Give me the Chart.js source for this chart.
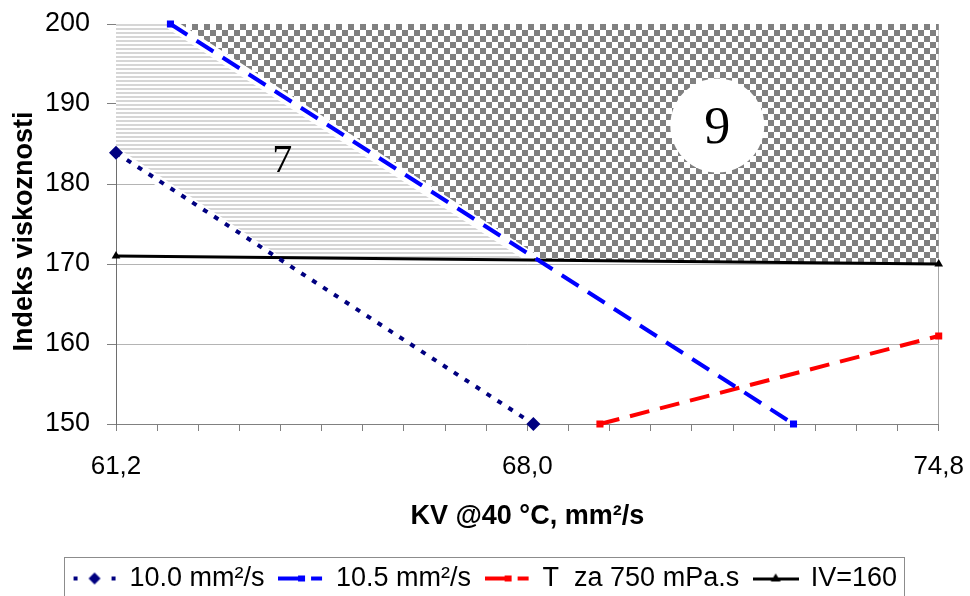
<!DOCTYPE html>
<html lang="hr">
<head>
  <meta charset="utf-8">
  <title>Indeks viskoznosti</title>
  <script src="https://cdn.jsdelivr.net/npm/chart.js@4.4.1/dist/chart.umd.min.js"></script>
  <style>
    html, body { margin: 0; padding: 0; background: #fff; overflow: hidden; }
    canvas { display: block; }
  </style>
</head>
<body>
<canvas id="chart" width="970" height="602"></canvas>

<script>
// --- data ---
const seriesNames = ['10.0 mm²/s', '10.5 mm²/s', 'T  za 750 mPa.s', 'IV=160'];

const kv100 = [61.2, 68.1];   // 10.0 mm2/s
const iv100 = [183.9, 150];
const kv105 = [62.1, 72.4];   // 10.5 mm2/s
const iv105 = [200, 150];
const kvT   = [69.2, 74.8];   // T za 750 mPa.s
const ivT   = [150, 161];
const kvIV  = [61.2, 74.8];   // IV=160
const ivIV  = [171, 170];

// shaded zones (corners)
const zone7X = [61.2, 62.1, 68.1, 63.8, 61.2];
const zone7Y = [200, 200, 170.6, 170.8, 183.9];
const zone9X = [62.1, 74.8, 74.8, 68.1];
const zone9Y = [200, 200, 170, 170.6];

// zone labels
const zoneLabels = ['7', '9'];
const zoneLabelX = [63.95, 71.14];
const zoneLabelY = [183.1, 187.2];
const zoneLabelSize = [40, 52];
const circleX = [71.14];
const circleY = [187.3];

// axes
const xMin = 61.2, xMax = 74.8, xStep = 0.68;
const xTickLabels = ['61,2', '68,0', '74,8'];
const xLabelEvery = 10;
const yMin = 150, yMax = 200, yStep = 10;

const pts = (xs, ys) => xs.map((x, i) => ({x: x, y: ys[i]}));

const canvas = document.getElementById('chart');
const ctx = canvas.getContext('2d');

// fill patterns
function tile(w, h, draw) {
  const c = document.createElement('canvas');
  c.width = w; c.height = h;
  draw(c.getContext('2d'));
  return ctx.createPattern(c, 'repeat');
}
const stripes = tile(4, 4, function (g) {
  g.fillStyle = '#ffffff'; g.fillRect(0, 0, 4, 4);
  g.fillStyle = '#d6d6d6'; g.fillRect(0, 0, 4, 2);
});
const checker = tile(12, 12, function (g) {
  g.fillStyle = '#ffffff'; g.fillRect(0, 0, 12, 12);
  g.fillStyle = '#808080'; g.fillRect(0, 0, 6, 6); g.fillRect(6, 6, 6, 6);
});

// legend icons (line + marker)
function icon(color, kind) {
  const c = document.createElement('canvas');
  c.width = 46; c.height = 18;
  const g = c.getContext('2d');
  g.fillStyle = color;
  if (kind === 'diamond') {
    g.fillRect(2, 7, 4, 4);
    g.fillRect(40, 7, 4, 4);
    g.beginPath();
    g.moveTo(23, 3); g.lineTo(29, 9); g.lineTo(23, 15); g.lineTo(17, 9);
    g.closePath(); g.fill();
  } else if (kind === 'square') {
    g.fillRect(0, 7, 22, 4);
    g.fillRect(20, 6, 7, 6);
    g.fillRect(33, 7, 11, 4);
  } else {
    g.fillRect(0, 8, 46, 3);
    g.beginPath();
    g.moveTo(23, 4); g.lineTo(28, 12); g.lineTo(18, 12);
    g.closePath(); g.fill();
  }
  return c;
}
const legendIcons = [icon('#000080', 'diamond'), icon('#0000ff', 'square'), icon('#ff0000', 'square'), icon('#000000', 'tri')];

const overlay = {
  id: 'overlay',
  afterDatasetsDraw(chart) {
    const c = chart.ctx, xs = chart.scales.x, ys = chart.scales.y;
    c.save();
    c.fillStyle = '#000';
    c.textAlign = 'center';
    c.textBaseline = 'alphabetic';
    zoneLabels.forEach(function (t, i) {
      c.font = zoneLabelSize[i] + 'px "Liberation Serif", "Times New Roman", serif';
      const m = c.measureText(t);
      const px = xs.getPixelForValue(zoneLabelX[i]);
      const py = ys.getPixelForValue(zoneLabelY[i]);
      c.fillText(t, px, py + (m.actualBoundingBoxAscent - m.actualBoundingBoxDescent) / 2);
    });
    c.restore();
  },
  afterDraw(chart) {
    const hb = chart.legend.legendHitBoxes;
    if (!hb || !hb.length) return;
    const first = hb[0], last = hb[hb.length - 1];
    const left = Math.round(first.left - 9);
    const right = Math.round(last.left + last.width + 7);
    const top = Math.round(first.top + first.height / 2 - 22);
    const c = chart.ctx;
    c.save();
    c.strokeStyle = '#8c8c8c';
    c.lineWidth = 1;
    c.strokeRect(left + 0.5, top + 0.5, right - left, 80);
    c.restore();
  }
};

Chart.defaults.font.family = '"Liberation Sans", Arial, sans-serif';
Chart.defaults.color = '#000';

const lineIdx = [5, 6, 7, 8];

new Chart(ctx, {
  type: 'line',
  data: {
    datasets: [
      { data: pts(zone7X, zone7Y), fill: 'shape', backgroundColor: stripes, borderColor: 'rgba(0,0,0,0)',
        borderWidth: 0, pointRadius: 0, order: 10 },
      { data: pts(zone9X, zone9Y), fill: 'shape', backgroundColor: checker, borderColor: 'rgba(0,0,0,0)',
        borderWidth: 0, pointRadius: 0, order: 10 },
      { data: pts([zone7X[4], zone7X[3]], [zone7Y[4], zone7Y[3]]), borderColor: '#ffffff', borderWidth: 10,
        pointRadius: 0, order: 8 },
      { data: pts([zone7X[1], zone7X[2]], [zone7Y[1], zone7Y[2]]), borderColor: '#ffffff', borderWidth: 11,
        pointRadius: 0, order: 8 },
      { data: pts(circleX, circleY), showLine: false, pointRadius: 47, pointBackgroundColor: '#ffffff',
        pointBorderWidth: 0, pointBorderColor: '#ffffff', order: 6 },
      { label: seriesNames[0], data: pts(kv100, iv100), borderColor: '#000080', borderWidth: 4, borderDash: [5, 8],
        pointStyle: 'rectRot', pointRadius: 7, pointBackgroundColor: '#000080', pointBorderWidth: 0, order: 1, clip: 10 },
      { label: seriesNames[1], data: pts(kv105, iv105), borderColor: '#0000ff', borderWidth: 4, borderDash: [20, 11],
        pointStyle: 'rect', pointRadius: 5, pointBackgroundColor: '#0000ff', pointBorderWidth: 0, order: 1, clip: 10 },
      { label: seriesNames[2], data: pts(kvT, ivT), borderColor: '#ff0000', borderWidth: 4, borderDash: [20, 11],
        pointStyle: 'rect', pointRadius: 5, pointBackgroundColor: '#ff0000', pointBorderWidth: 0, order: 1, clip: 10 },
      { label: seriesNames[3], data: pts(kvIV, ivIV), borderColor: '#000000', borderWidth: 3,
        pointStyle: 'triangle', pointRadius: 5, pointBackgroundColor: '#000000', pointBorderWidth: 0, order: 1, clip: 10 }
    ]
  },
  options: {
    responsive: false,
    animation: false,
    events: [],
    layout: { autoPadding: false, padding: { left: 0, right: 0, top: 24, bottom: 0 } },
    scales: {
      x: {
        type: 'linear',
        min: xMin,
        max: xMax,
        afterBuildTicks(scale) {
          const t = [];
          for (let i = 0; i * xStep <= xMax - xMin + 1e-6; i++) t.push({ value: +(xMin + i * xStep).toFixed(2) });
          scale.ticks = t;
        },
        afterFit(scale) { scale.height = 126; },
        ticks: {
          autoSkip: false,
          maxRotation: 0,
          padding: 6,
          font: { size: 26, lineHeight: 2.31 },
          callback: (v, i) => (i % xLabelEvery === 0 ? xTickLabels[i / xLabelEvery] : '')
        },
        grid: {
          color: (c) => (c.tick && Math.abs(c.tick.value - xMax) < 1e-6 ? '#a6a6a6' : 'rgba(0,0,0,0)'),
          tickColor: '#808080',
          tickLength: 7
        },
        border: { color: '#808080' },
        title: { display: true, text: 'KV @40 °C, mm²/s', font: { size: 27, weight: 'bold' },
                 padding: { top: 0, bottom: 17 } }
      },
      y: {
        min: yMin,
        max: yMax,
        afterFit(scale) { scale.width = 116; },
        ticks: { stepSize: yStep, padding: 17, font: { size: 27, lineHeight: 0.5 } },
        grid: { color: '#b4b4b4', tickColor: '#808080', tickLength: 9 },
        border: { color: '#6e6e6e' },
        title: { display: true, text: 'Indeks viskoznosti  ', font: { size: 27, weight: 'bold' },
                 padding: { top: 8, bottom: 0 } }
      }
    },
    plugins: {
      tooltip: { enabled: false },
      legend: {
        position: 'bottom',
        labels: {
          usePointStyle: true,
          pointStyleWidth: 43,
          padding: 15,
          font: { size: 27 },
          color: '#000',
          generateLabels: (chart) => lineIdx.map((di, k) => ({
            text: seriesNames[k],
            pointStyle: legendIcons[k],
            fillStyle: '#000',
            strokeStyle: '#000',
            lineWidth: 0,
            hidden: false,
            datasetIndex: di
          }))
        }
      }
    }
  },
  plugins: [overlay]
});
</script>
</body>
</html>
